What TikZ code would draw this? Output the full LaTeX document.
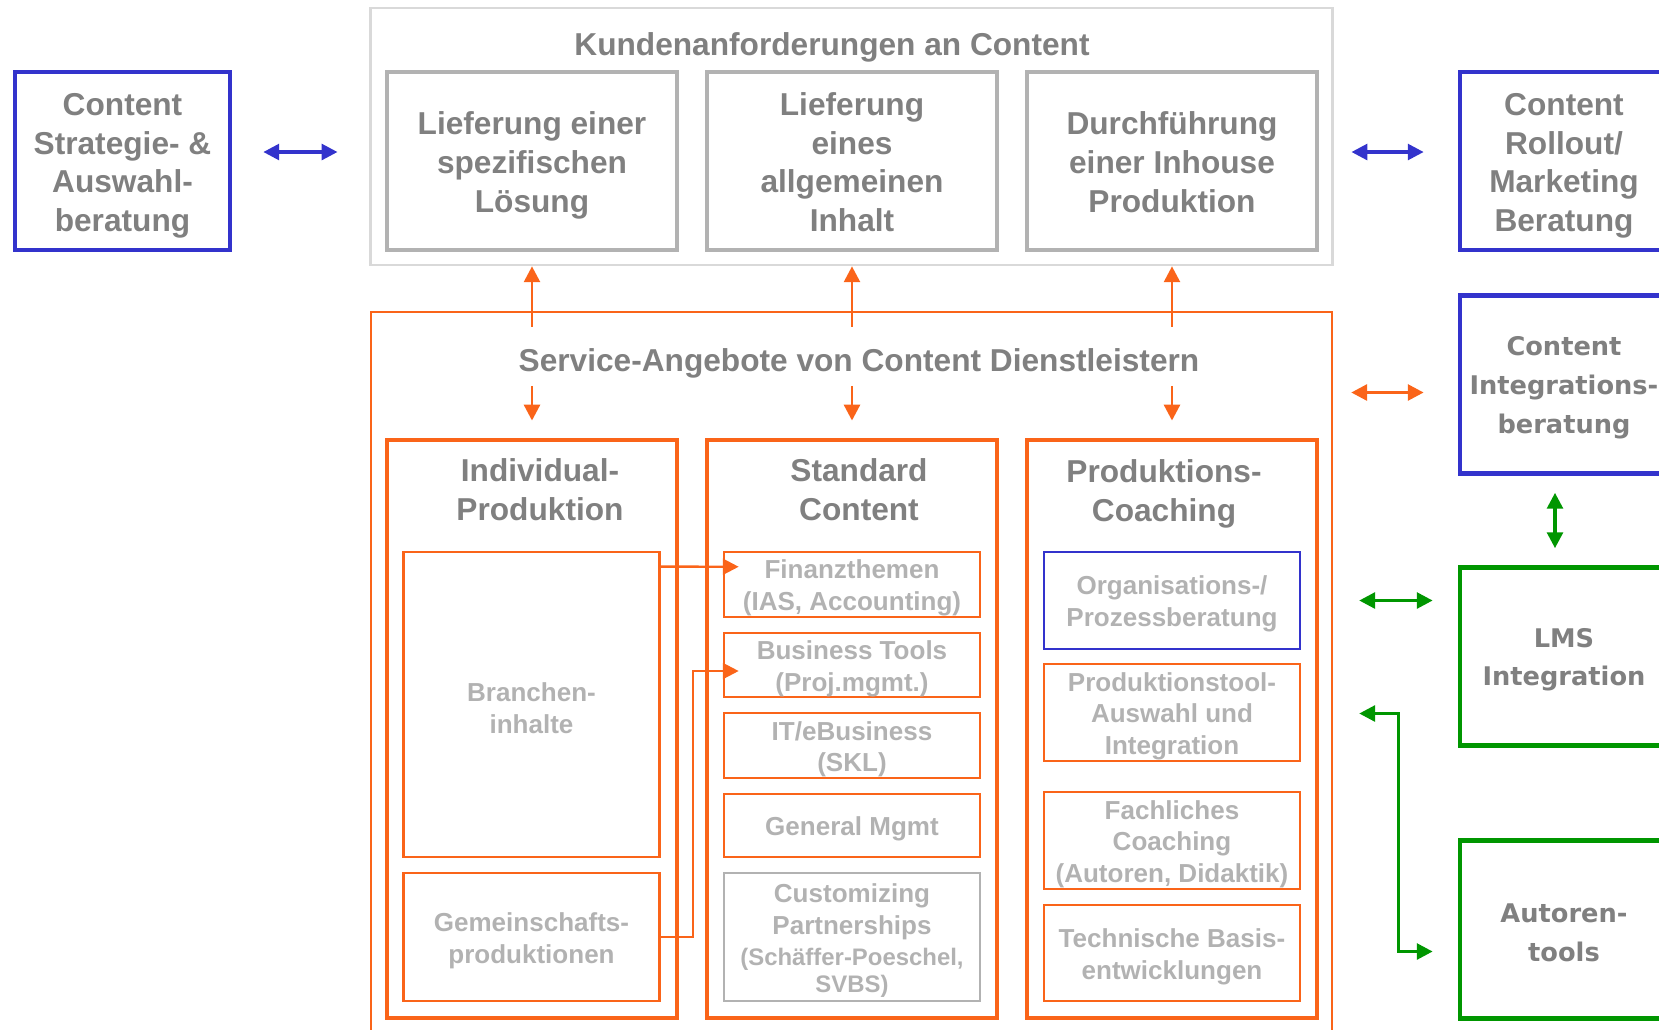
\documentclass[tikz,border=0pt]{standalone}
\usepackage{fontspec}
\setmainfont{Liberation Sans}
\newfontfamily\verdanalike{DejaVu Sans}
\usetikzlibrary{arrows.meta,calc}
\definecolor{cblue}{RGB}{51,51,204}
\definecolor{corange}{RGB}{250,100,25}
\definecolor{cgreen}{RGB}{0,150,0}
\definecolor{cgray}{RGB}{178,178,178}
\definecolor{clight}{RGB}{217,217,217}
\definecolor{ctext}{RGB}{128,128,128}
\definecolor{cpale}{RGB}{178,178,178}
\newcommand\topstrut{\rule{0pt}{1em}}
\newcommand\botstrut{\rule[-0.21em]{0pt}{0.21em}}

\begin{document}
\begin{tikzpicture}[x=0.01cm,y=-0.01cm,
  bigfont/.style={font=\fontsize{9}{11}\selectfont\bfseries,text=ctext,align=center,
    execute at begin node={\topstrut}},
  widefont/.style={font=\verdanalike\fontsize{7.3}{11}\selectfont\bfseries},
  smallfont/.style={font=\fontsize{7.4}{9}\selectfont\bfseries,text=cpale,align=center,
    execute at begin node={\topstrut}},
  box/.style={rectangle,draw,inner sep=0pt},
  reqbox/.style={box,bigfont,draw=cgray,line width=1.2pt,minimum width=2.9cm,minimum height=1.78cm},
  consbox/.style={box,bigfont,line width=1.3pt,minimum width=2.08cm,minimum height=1.78cm},
  colbox/.style={box,draw=corange,line width=1.3pt,minimum width=2.9cm,minimum height=5.78cm},
  itembox/.style={box,smallfont,draw=corange,line width=0.7pt,minimum width=2.56cm},
  dbl/.style={{Triangle[length=4.5pt,width=4.5pt]}-{Triangle[length=4.5pt,width=4.5pt]},line width=0.9pt},
  one/.style={-{Triangle[length=4.5pt,width=4.5pt]},line width=0.85pt}]
\useasboundingbox (0,0) rectangle (1659,1029);

% Customer requirements
\node[box,draw=clight,line width=0.7pt,minimum width=9.61cm,minimum height=2.57cm] (kunden) at (851.5,136.5) {};
\node[bigfont] (kundentitle) at (832,43) {Kundenanforderungen an Content};
\node[reqbox] (lief1) at (532,161) {\topstrut Lieferung einer\\spezifischen\\Lösung};
\node[reqbox] (lief2) at (852,161) {\topstrut Lieferung\\eines\\allgemeinen\\Inhalt\botstrut};
\node[reqbox] (durch) at (1172,161) {\topstrut Durchführung\\einer Inhouse\\Produktion\botstrut};

% Consulting fields (blue / green)
\node[consbox,draw=cblue,minimum width=2.15cm] (strat) at (122.5,161) {\topstrut Content\\Strategie- \&\\Auswahl-\\beratung};
\node[consbox,draw=cblue] (rollout) at (1564,161) {\topstrut Content\\Rollout/\\Marketing\\Beratung};
\node[consbox,widefont,draw=cblue] (integ) at (1564,384.5) {\topstrut Content\\Integrations-\\beratung};
\node[consbox,widefont,draw=cgreen] (lms) at (1564,656.5) {\topstrut LMS\\Integration};
\node[consbox,widefont,draw=cgreen] (autor) at (1564,929.5) {\topstrut Autoren-\\tools};

% Service offers
\node[box,draw=corange,line width=0.55pt,minimum width=9.61cm,minimum height=7.33cm] (service) at (851.5,678.5) {};
\node[bigfont] (servicetitle) at (859,359) {Service-Angebote von Content Dienstleistern};
\node[colbox] (col1) at (532,729) {};
\node[colbox] (col2) at (852,729) {};
\node[colbox] (col3) at (1172,729) {};
\node[bigfont] (col1title) at (540,490) {Individual-\\Produktion};
\node[bigfont] (col2title) at (859,490) {Standard\\Content};
\node[bigfont] (col3title) at (1164,494) {Produktions-\\Coaching};

% Individual production
\node[itembox,minimum height=3.05cm] (branchen) at (531.5,704.5) {\topstrut Branchen-\\inhalte};
\node[itembox,minimum height=1.28cm] (gem) at (531.5,937) {\topstrut Gemeinschafts-\\produktionen};

% Standard content
\node[itembox,minimum height=0.65cm] (fin) at (852,584.5) {\topstrut Finanzthemen\\(IAS, Accounting)};
\node[itembox,minimum height=0.64cm] (biz) at (852,665) {\topstrut Business Tools\\(Proj.mgmt.)};
\node[itembox,minimum height=0.65cm] (it) at (852,745.5) {\topstrut IT/eBusiness\\(SKL)};
\node[itembox,minimum height=0.63cm] (gen) at (852,825.5) {General Mgmt};
\node[itembox,draw=cgray,minimum height=1.28cm] (cust) at (852,937) {\topstrut Customizing\\Partnerships\\{\fontsize{6.8}{7.5}\selectfont(Schäffer-Poeschel,}\\[-1.3pt]{\fontsize{6.8}{7.5}\selectfont SVBS)}};

% Production coaching
\node[itembox,draw=cblue,minimum height=0.97cm] (org) at (1172,600.5) {\topstrut Organisations-/\\Prozessberatung};
\node[itembox,minimum height=0.97cm] (ptool) at (1172,712.5) {\topstrut Produktionstool-\\Auswahl und\\Integration};
\node[itembox,minimum height=0.97cm] (fach) at (1172,840.5) {\topstrut Fachliches\\Coaching\\(Autoren, Didaktik)};
\node[itembox,minimum height=0.96cm] (tech) at (1172,953) {\topstrut Technische Basis-\\entwicklungen};

% Connections
\draw[dbl,cblue] ($(strat.east)+(31,-9)$) -- ($(strat.east -| kunden.west)+(-32,-9)$);
\draw[dbl,cblue] ($(kunden.east |- rollout.west)+(18,-9)$) -- ($(rollout.west)+(-34,-9)$);
\foreach \c/\r in {col1/lief1,col2/lief2,col3/durch} {
  \draw[one,corange] ($(service.north -| \c)+(0,16)$) -- (kunden.south -| \r);
  \draw[one,corange] ($(service.north -| \c)+(0,75)$) -- ($(\c.north)+(0,-17)$);
}
\draw[one,corange,line width=0.7pt] ($(branchen.north east)+(0,16)$) -- ($(fin.north west)+(16,16)$);
\draw[one,corange,line width=0.7pt] (gem.east) -- ++(32,0) |- ($(biz.west)+(16,6)$);
\draw[dbl,corange] ($(service.east |- integ.west)+(18,8)$) -- ($(integ.west)+(-34,8)$);
\draw[dbl,cgreen] ($(integ.south)+(-9,17)$) -- ($(lms.north)+(-9,-17)$);
\draw[dbl,cgreen] ($(service.east |- lms.west)+(26,-56)$) -- ($(lms.west)+(-25,-56)$);
\draw[dbl,cgreen] ($(service.east |- lms.west)+(26,57)$) -- ++(39,0) |- ($(autor.west)+(-25,22)$);

\end{tikzpicture}
\end{document}
